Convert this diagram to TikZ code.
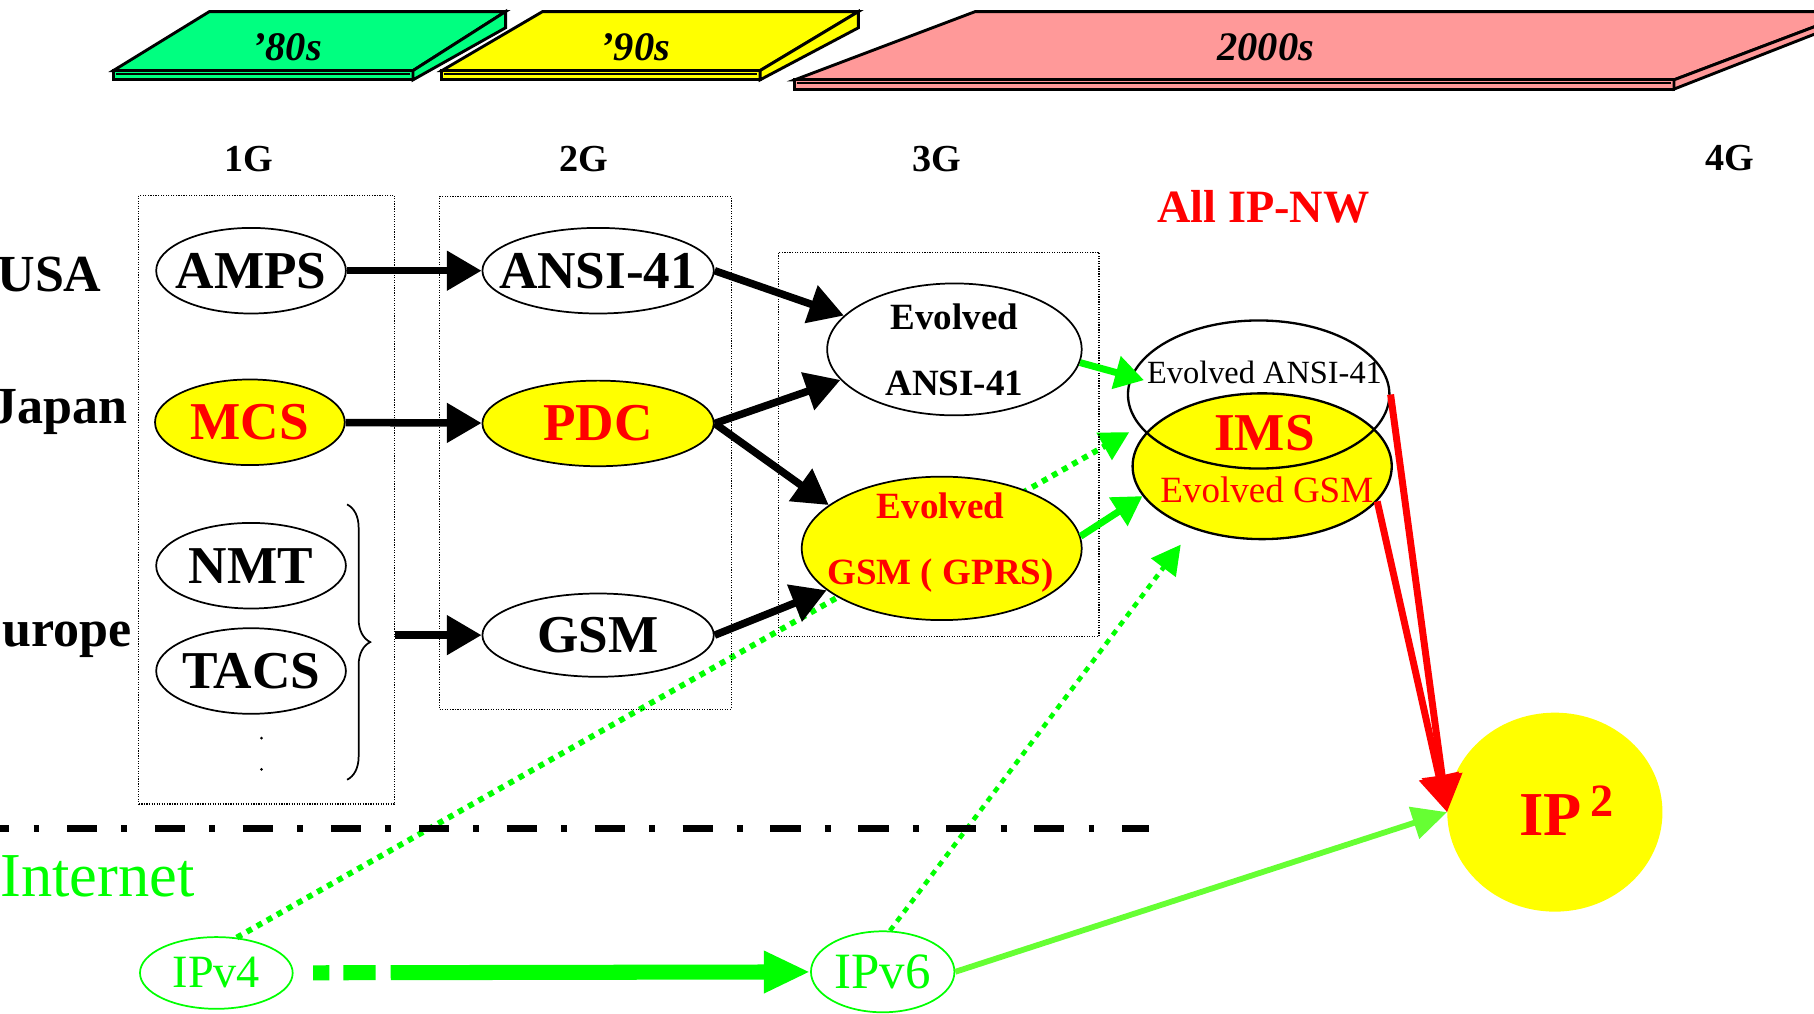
\documentclass[tikz,border=0pt]{standalone}
\usepackage{fontspec}
\setmainfont{Liberation Serif}
\usepackage{xcolor}
\usepackage{tikz}
\usetikzlibrary{arrows.meta}
\usetikzlibrary{shapes.geometric}
\usetikzlibrary{decorations.pathreplacing}
\usetikzlibrary{backgrounds}
\definecolor{eragreen}{HTML}{00FF80}
\definecolor{erayellow}{HTML}{FFFF00}
\definecolor{erapink}{HTML}{FF9999}
\definecolor{netgreen}{HTML}{00FF00}
\definecolor{limegreen}{HTML}{66FF33}
\newcommand{\sysfont}{\fontsize{46}{46}\selectfont\bfseries}
\newcommand{\evofont}{\fontsize{32}{57}\selectfont\bfseries}
\newcommand{\genfont}{\fontsize{33}{33}\selectfont\bfseries}
\newcommand{\erafont}{\fontsize{35}{35}\selectfont\bfseries\itshape}
\newcommand{\sysname}[1]{\makebox[0pt]{#1}}
\tikzset{
    tnode/.style = {align=center, inner sep=0pt, text centered},
    sys_node/.style = {tnode, ellipse, draw=black, fill=white, line width=1.5pt, minimum width=164pt, minimum height=74pt, font=\sysfont},
    wide_node/.style = {sys_node, minimum width=200pt},
    yellow_node/.style = {fill=erayellow, text=red},
    evo_node/.style = {tnode, ellipse, draw=black, fill=white, line width=1.5pt, font=\evofont},
    ims_node/.style = {tnode, ellipse, draw=black, line width=2pt, minimum width=226pt, minimum height=128pt},
    ip_node/.style = {tnode, ellipse, draw=netgreen, text=netgreen, line width=1.5pt},
    gen_box/.style = {rectangle, draw=black, line width=1pt, dash pattern=on 1pt off 1.2pt, inner sep=0pt},
    gen_label/.style = {tnode, anchor=base, font=\genfont},
    region_label/.style = {tnode, anchor=base east, font=\fontsize{45}{45}\selectfont\bfseries},
    slab/.style = {draw=black, line width=2.5pt, line join=miter}
}

\begin{document}
\begin{tikzpicture}
            [x=1pt, y=-1pt,
            black_arrow/.style = {line width=6.5pt, -{Triangle[length=30pt, width=33pt]}},
            green_arrow/.style = {netgreen, line width=6pt, -{Triangle[length=25pt, width=28pt]}},
            dot_arrow/.style = {netgreen, line width=5pt, dash pattern=on 5pt off 5pt, -{Triangle[length=25pt, width=26pt]}},
            pipe_arrow/.style = {netgreen, line width=13pt, dash pattern=on 14pt off 12pt on 28pt off 13pt on 600pt, -{Triangle[length=40pt, width=34pt]}},
            lime_arrow/.style = {limegreen, line width=5pt, -{Triangle[length=30pt, width=28pt]}},
            red_arrow/.style = {red, line width=6pt, -{Triangle[length=32pt, width=34pt]}}]

            \useasboundingbox (0,0) rectangle (1568,876);
            \clip (0,0) rectangle (1568,876);

            % decades
            \filldraw[slab, fill=eragreen] (181,10) -- (437,10) -- (357,61) -- (98,61) -- cycle;
            \filldraw[slab, fill=eragreen] (98,61) rectangle (357,69);
            \filldraw[slab, fill=eragreen] (437,10) -- (437,24) -- (357,69) -- (357,61) -- cycle;
            \draw[line width=2pt] (100,64) -- (354,64);
            \filldraw[slab, fill=erayellow] (469,10) -- (742,10) -- (657,61) -- (382,61) -- cycle;
            \filldraw[slab, fill=erayellow] (382,61) rectangle (657,69);
            \filldraw[slab, fill=erayellow] (742,10) -- (742,24) -- (657,69) -- (657,61) -- cycle;
            \draw[line width=2pt] (384,64) -- (654,64);
            \filldraw[slab, fill=erapink] (843,10) -- (1603,10) -- (1447,69) -- (687,69) -- cycle;
            \filldraw[slab, fill=erapink] (687,69) rectangle (1447,77);
            \filldraw[slab, fill=erapink] (1603,10) -- (1603,16) -- (1447,77) -- (1447,69) -- cycle;
            \draw[line width=2pt] (689,72) -- (1444,72);
            \node[tnode, anchor=base, font=\erafont] (eighties) at (248,52) {'80s};
            \node[tnode, anchor=base, font=\erafont] (nineties) at (549,52) {'90s};
            \node[tnode, anchor=base, font=\erafont] (noughties) at (1094,52) {2000s};

            % generations and regions
            \node[gen_label] (gen1) at (215,148) {1G};
            \node[gen_label] (gen2) at (505,148) {2G};
            \node[gen_label] (gen3) at (810,148) {3G};
            \node[gen_label] (gen4) at (1495,147) {4G};
            \node[tnode, anchor=base, text=red, font=\fontsize{40}{40}\selectfont\bfseries] (allip) at (1092,192) {All IP-NW};
            \node[region_label] (usa) at (88,252) {USA};
            \node[region_label] (japan) at (110,366) {Japan};
            \node[region_label] (europe) at (114,559) {Europe};
            \node[tnode, anchor=base west, text=netgreen, font=\fontsize{54}{54}\selectfont] (internet) at (0,775) {Internet};

            \node[gen_box, minimum width=221pt, minimum height=526pt] (box1g) at (230.5,432) {};
            \node[gen_box, minimum width=252pt, minimum height=443pt] (box2g) at (506,391.5) {};
            \node[gen_box, minimum width=277pt, minimum height=332pt] (box3g) at (811.5,384) {};
            \draw[line width=6pt, dash pattern=on 26pt off 21pt on 5pt off 24pt, dash phase=18pt] (0,716) -- (993,716);

            % systems
            \node[sys_node] (amps) at (217,234) {\sysname{AMPS}};
            \node[sys_node, yellow_node] (mcs) at (216,365) {\sysname{MCS}};
            \node[sys_node] (nmt) at (217,489) {\sysname{NMT}};
            \node[sys_node] (tacs) at (217,580) {\sysname{TACS}};
            \fill (226,638) circle (1.3pt);
            \fill (226,665) circle (1.3pt);
            \draw[line width=1.5pt, decorate, decoration={brace, amplitude=20pt}] (300,436) -- (300,674);
            \node[wide_node] (ansi) at (517,234) {\sysname{ANSI-41}};
            \node[wide_node, yellow_node] (pdc) at (517,366) {\sysname{PDC}};
            \node[wide_node, minimum height=72pt] (gsm) at (517,549) {\sysname{GSM}};
            \node[evo_node, minimum width=220pt, minimum height=114pt] (eansi) at (825,302) {Evolved\\ANSI-41};
            \node[evo_node, yellow_node, minimum width=242pt, minimum height=124pt] (egsm) at (814,474) {};
            \node[tnode, font=\evofont, text=red] (egsmtext) at (813,469) {Evolved\\GSM ( GPRS)};

            \node[ims_node, fill=erayellow, minimum width=224pt, minimum height=126pt] (imsgsm) at (1091,403) {};
            \node[ims_node] (imsansi) at (1088,341) {};
            \node[tnode, font=\fontsize{28}{28}\selectfont] (imsansitext) at (1093,322) {Evolved ANSI-41};
            \node[tnode, text=red, font=\fontsize{46}{46}\selectfont\bfseries] (imstext) at (1093,374) {IMS};
            \node[tnode, text=red, font=\fontsize{32}{32}\selectfont] (imsgsmtext) at (1095,423) {Evolved GSM};

            \node[tnode, ellipse, fill=erayellow, minimum width=186pt, minimum height=172pt] (iptwo) at (1344,702) {};
            \node[tnode, anchor=base west, text=red, font=\fontsize{54}{54}\selectfont\bfseries] (iptext) at (1313,722) {IP\hspace{8pt}\raisebox{16pt}{\fontsize{40}{40}\selectfont 2}};

            \node[ip_node, minimum width=132pt, minimum height=62pt, font=\fontsize{40}{40}\selectfont] (ipv4) at (187,841) {IPv4};
            \node[ip_node, minimum width=124pt, minimum height=70pt, font=\fontsize{44}{44}\selectfont] (ipv6) at (763,840) {IPv6};

            % evolution
            \draw[black_arrow] (amps) -- (ansi);
            \draw[black_arrow] (mcs) -- (pdc);
            \draw[black_arrow] (box1g.east |- gsm.west) -- (gsm.west);
            \draw[black_arrow] (ansi.east) -- (eansi.163);
            \draw[black_arrow] (pdc.east) -- (eansi.195);
            \draw[black_arrow] (pdc.east) -- (egsm.159);
            \draw[black_arrow] (gsm.east) -- (egsm.200);
            \draw[green_arrow, shorten >=-12pt] (eansi.-6) -- (imsansi.172);
            \draw[green_arrow] (egsm.5) -- (imsgsm.194);
            \begin{scope}[on background layer]
                \draw[dot_arrow, shorten >=10pt] (ipv4.60) -- (imsansi.195);
                \draw[dot_arrow, line width=4pt, shorten >=17pt] (ipv6.80) -- (imsgsm.222);
            \end{scope}
            \draw[pipe_arrow, shorten <=17pt] (ipv4) -- (ipv6);
            \draw[lime_arrow] (ipv6.east) -- (iptwo.west);
            \draw[red_arrow] (imsansi.east) -- (iptwo.west);
            \draw[red_arrow] (imsgsm.-17) -- (iptwo.west);
        \end{tikzpicture}
\end{document}
